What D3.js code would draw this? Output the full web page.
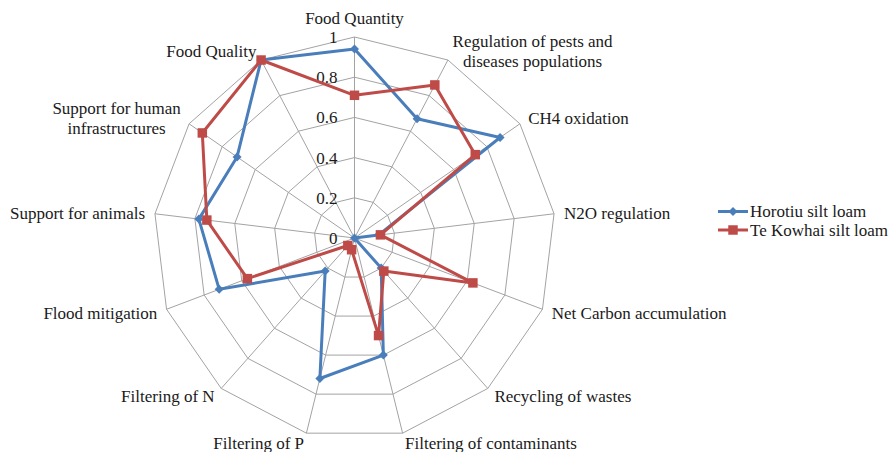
<!DOCTYPE html>
<html>
<head>
<meta charset="utf-8">
<script src="https://cdn.jsdelivr.net/npm/d3@7"></script>
<style>
  html, body { margin: 0; padding: 0; background: #fff; }
  svg { display: block; }
  text { font-family: "Liberation Serif", "Times New Roman", serif; fill: #1a1a1a; }
</style>
</head>
<body>
<svg id="chart" width="892" height="452"></svg>
<script>
// Ecosystem services, one spoke each (clockwise from the top)
const categories = [
  "Food Quantity",
  "Regulation of pests and\ndiseases populations",
  "CH4 oxidation",
  "N2O regulation",
  "Net Carbon accumulation",
  "Recycling of wastes",
  "Filtering of contaminants",
  "Filtering of P",
  "Filtering of N",
  "Flood mitigation",
  "Support for animals",
  "Support for human\ninfrastructures",
  "Food Quality"
];

const seriesNames = ["Horotiu silt loam", "Te Kowhai silt loam"];
const horotiu   = [0.94, 0.67, 0.88, 0.12, 0.00, 0.20, 0.60, 0.72, 0.22, 0.72, 0.78, 0.71, 1.00];
const teKowhai  = [0.71, 0.86, 0.73, 0.13, 0.63, 0.22, 0.50, 0.06, 0.05, 0.57, 0.74, 0.92, 1.00];
const tickValues = [0, 0.2, 0.4, 0.6, 0.8, 1];
const tickLabels = ["0", "0.2", "0.4", "0.6", "0.8", "1"];

const svg = d3.select("#chart");
const cx = 354.5, cy = 238, R = 201;
const n = categories.length;

const r = d3.scaleLinear().domain([0, 1]).range([0, R]);
const angle = d3.scaleLinear().domain([0, n]).range([0, 2 * Math.PI]);
const px = (i, v) => cx + r(v) * Math.sin(angle(i));
const py = (i, v) => cy - r(v) * Math.cos(angle(i));

const grid = svg.append("g").attr("stroke", "#a3a3a3").attr("stroke-width", 1).attr("fill", "none");

// concentric polygon rings
tickValues.slice(1).forEach(t => {
  grid.append("polygon")
    .attr("points", d3.range(n).map(i => [px(i, t), py(i, t)].join(",")).join(" "));
});
// spokes
d3.range(n).forEach(i => {
  grid.append("line")
    .attr("x1", cx).attr("y1", cy)
    .attr("x2", px(i, 1)).attr("y2", py(i, 1));
});

// value labels along the first spoke
svg.append("g").selectAll("text").data(tickValues).join("text")
  .attr("x", cx - 17)
  .attr("y", d => cy - r(d))
  .attr("dy", "0.35em")
  .attr("text-anchor", "end")
  .attr("font-size", 17)
  .text((d, i) => tickLabels[i]);

// category labels around the outside
const labG = svg.append("g").attr("font-size", 17);
categories.forEach((c, i) => {
  const a = angle(i);
  const s = Math.sin(a), co = Math.cos(a);
  const x = px(i, 1) + 10 * s;
  let y = py(i, 1) - 10 * co;
  if (co > 0.95) y -= 9;
  const lines = c.split("\n");
  const lh = 19.5;
  const t = labG.append("text");
  lines.forEach((ln, k) => {
    t.append("tspan").attr("x", 0).attr("y", (k - (lines.length - 1) / 2) * lh).attr("dy", "0.35em").text(ln);
  });
  // widest line defines the block; lines are centred within it
  const tsp = t.selectAll("tspan").nodes();
  const w = d3.max(tsp, nd => nd.getComputedTextLength());
  let bx;
  if (s > 0.1) bx = x + w / 2;
  else if (s < -0.1) bx = x - w / 2;
  else bx = x;
  t.attr("text-anchor", "middle").attr("transform", `translate(${bx},${y})`);
});

const colors = ["#4a7ebb", "#be4b48"];
const seriesData = [horotiu, teKowhai];

const line = d3.line().curve(d3.curveLinearClosed);

seriesData.forEach((vals, si) => {
  const g = svg.append("g");
  g.append("path")
    .attr("d", line(vals.map((v, i) => [px(i, v), py(i, v)])))
    .attr("fill", "none")
    .attr("stroke", colors[si])
    .attr("stroke-width", 3)
    .attr("stroke-linejoin", "round");
  const sym = si === 0 ? d3.symbol(d3.symbolDiamond2, 52) : d3.symbol(d3.symbolSquare, 90);
  g.selectAll("path.m").data(vals).join("path")
    .attr("class", "m")
    .attr("d", sym)
    .attr("transform", (v, i) => `translate(${px(i, v)},${py(i, v)})`)
    .attr("fill", colors[si]);
});

// legend
const leg = svg.append("g").attr("font-size", 17);
seriesNames.forEach((name, si) => {
  const y = 211.5 + si * 18.5;
  leg.append("line").attr("x1", 718).attr("x2", 748).attr("y1", y).attr("y2", y)
    .attr("stroke", colors[si]).attr("stroke-width", 3);
  const sym = si === 0 ? d3.symbol(d3.symbolDiamond2, 52) : d3.symbol(d3.symbolSquare, 90);
  leg.append("path").attr("d", sym).attr("transform", `translate(733,${y})`).attr("fill", colors[si]);
  leg.append("text").attr("x", 750).attr("y", y).attr("dy", "0.35em").text(name);
});
</script>
</body>
</html>
